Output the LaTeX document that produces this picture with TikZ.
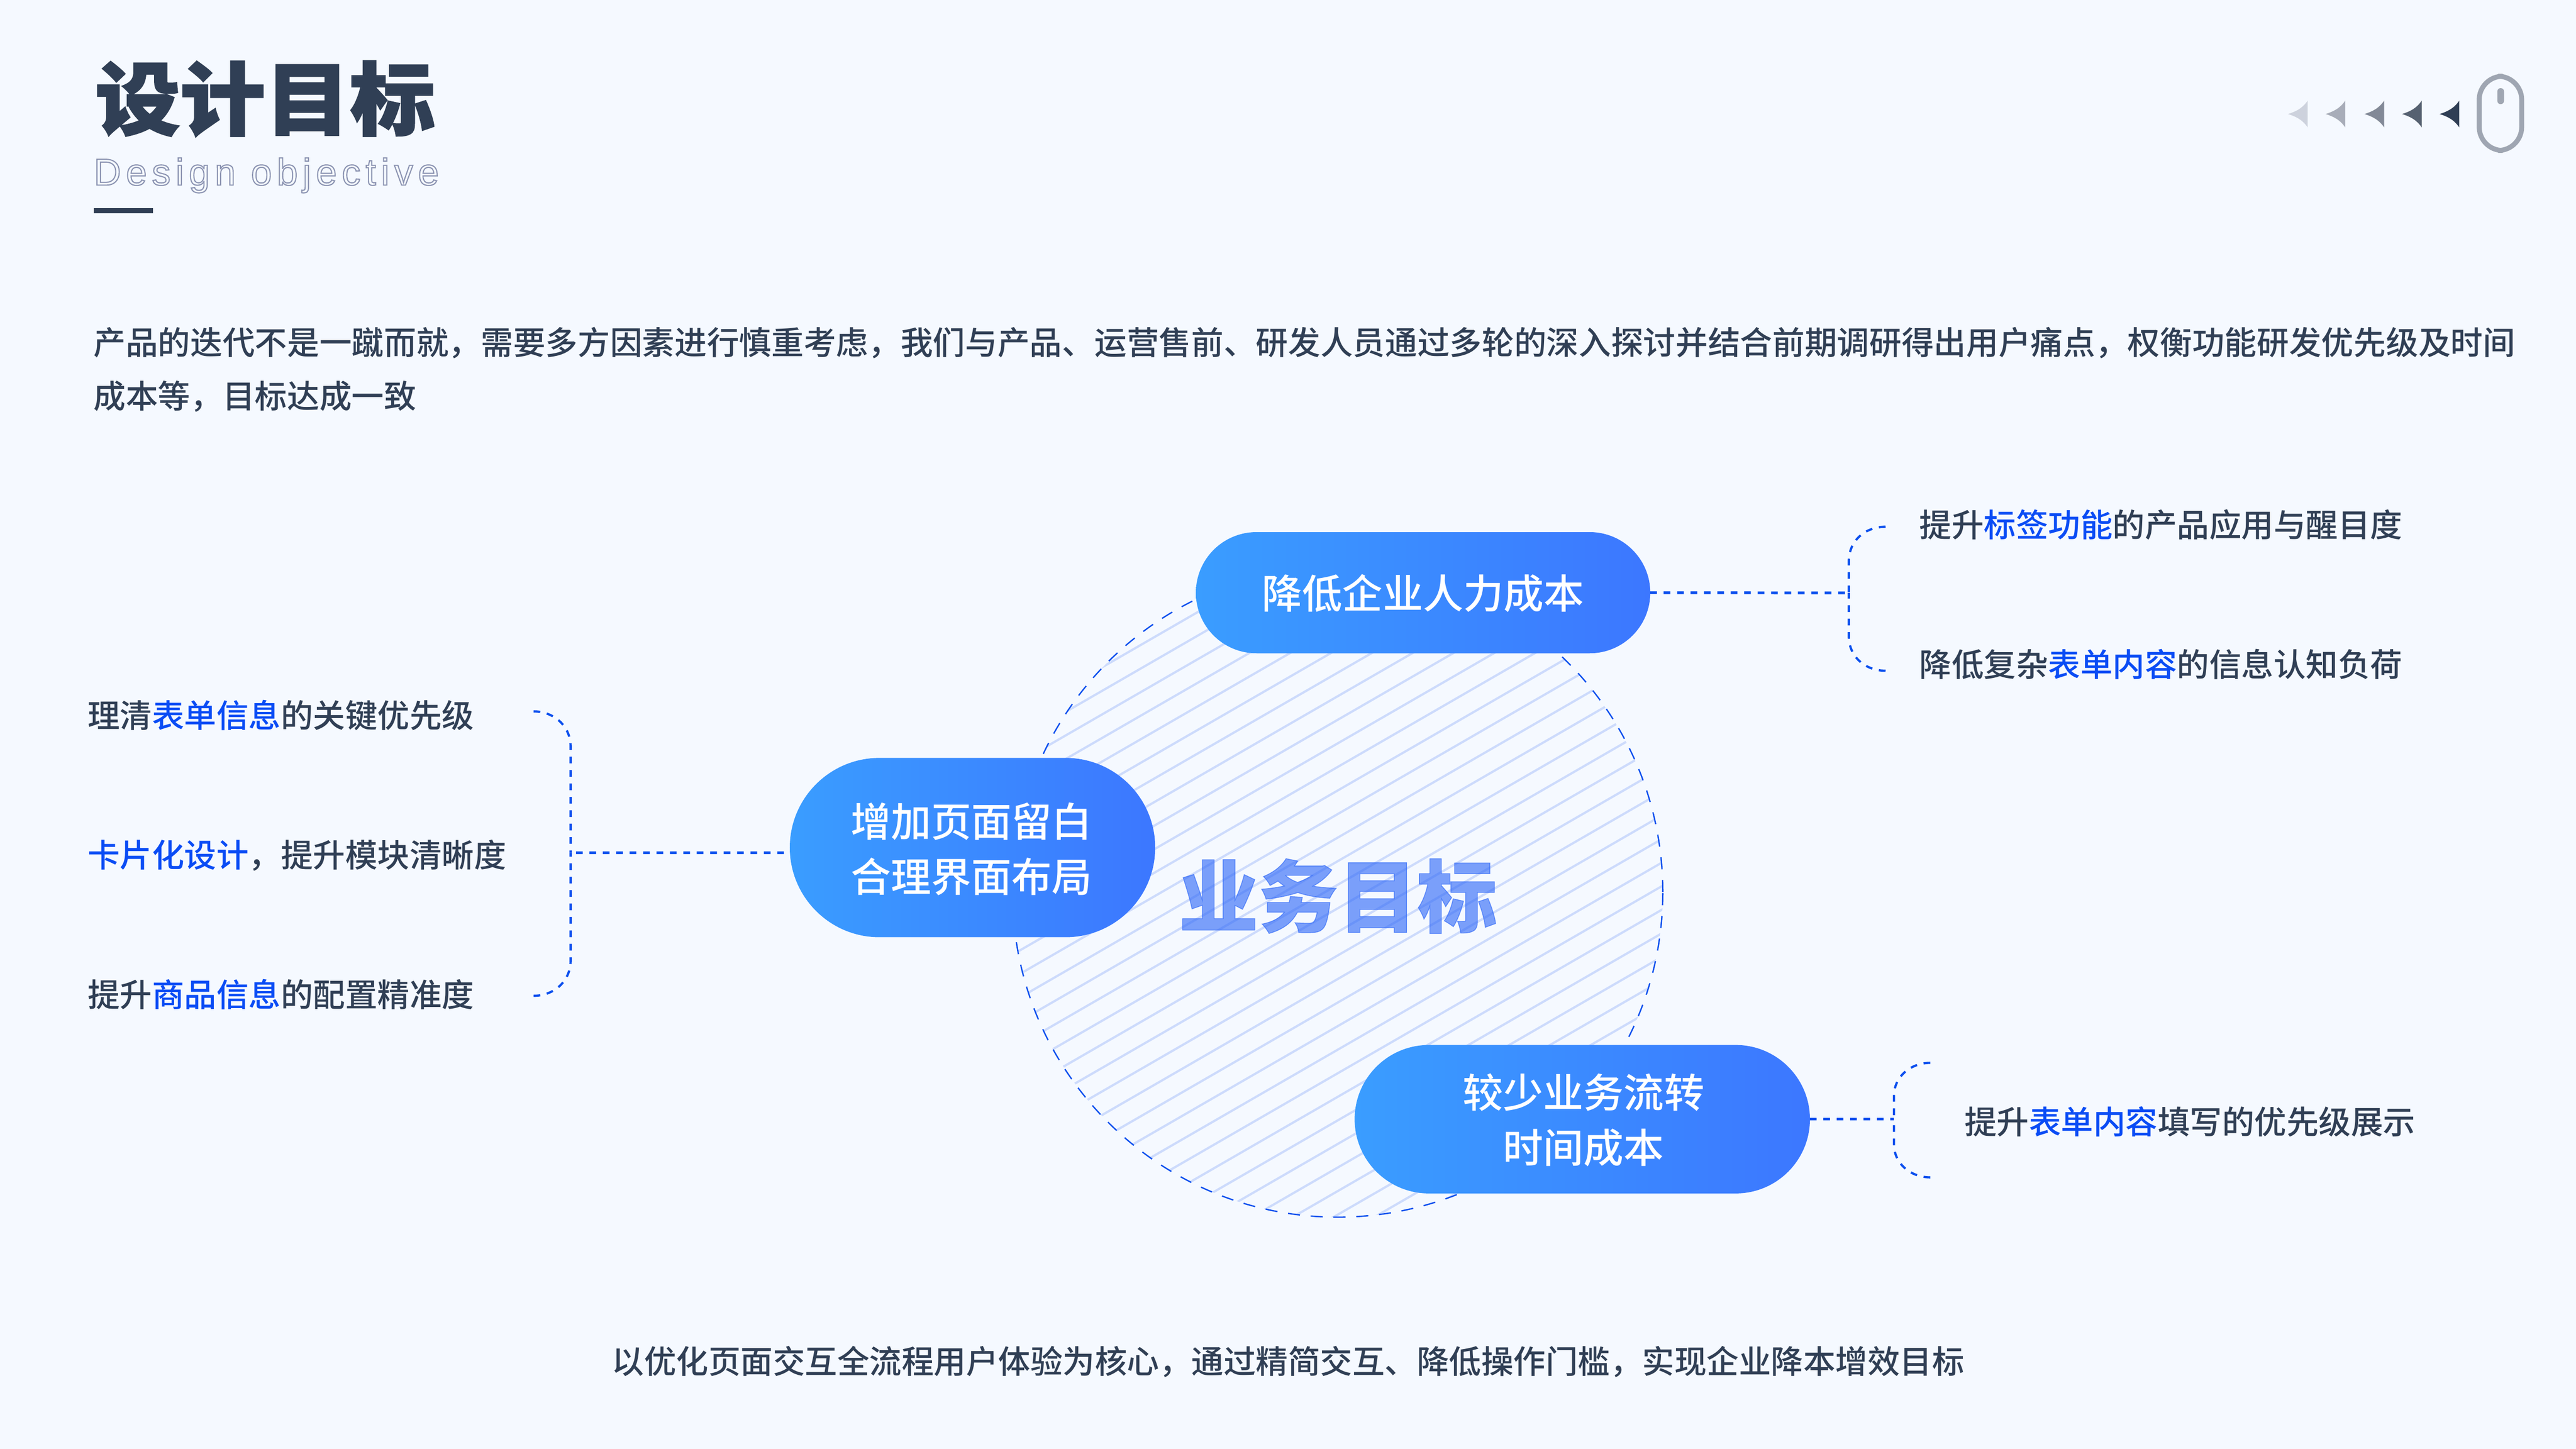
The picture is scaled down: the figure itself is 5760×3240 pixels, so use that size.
\documentclass[tikz,border=0pt]{standalone}
\usepackage{fontspec}
\usetikzlibrary{shapes.misc}
\newfontfamily\cjkreg{Noto Sans CJK SC}
\newfontfamily\cjkmed{Noto Sans CJK SC Medium}
\newfontfamily\cjkblack[FakeBold=2,FakeStretch=1.07]{Noto Sans CJK SC Black}
\newfontfamily\cjkgoal[FakeBold=1,FakeStretch=1.01]{Noto Sans CJK SC Black}
\newfontfamily\latinout[LetterSpace=13.2]{Liberation Sans}
\definecolor{pagebg}{HTML}{F5F9FF}
\definecolor{ink}{HTML}{303F55}
\definecolor{hi}{HTML}{0A4CF5}
\definecolor{lineblue}{HTML}{0B50EE}
\definecolor{hatch}{HTML}{CDDBFC}
\definecolor{pillL}{HTML}{3A9DFF}
\definecolor{pillR}{HTML}{3C77FF}
\definecolor{goalblue}{HTML}{2863F8}
\definecolor{mousegrey}{HTML}{9FA6B2}
\definecolor{ar1}{HTML}{CDD2DD}
\definecolor{ar2}{HTML}{A8ADB9}
\definecolor{ar3}{HTML}{828997}
\definecolor{ar4}{HTML}{566171}
\definecolor{ar5}{HTML}{2F3E55}
\newcommand{\hl}[1]{\textcolor{hi}{#1}}
\tikzset{
  x=0.2pt,y=-0.2pt,
  body/.style={inner sep=0pt,outer sep=0pt,anchor=base west,text=ink,font=\cjkmed\fontsize{14.4}{17}\selectfont},
  pill/.style={rounded rectangle,inner sep=0pt,outer sep=0pt,left color=pillL,right color=pillR,draw=none},
  pilltext/.style={inner sep=0pt,outer sep=0pt,text=white,align=center,font=\cjkmed\fontsize{18}{24.8}\selectfont},
  dotline/.style={draw=lineblue,line width=1.2pt,dash pattern=on 3pt off 3pt},
  brace/.style={draw=lineblue,line width=1pt,dash pattern=on 3pt off 3pt},
  ringline/.style={draw=lineblue,line width=0.6pt,dash pattern=on 5.4pt off 4.8pt},
}
\begin{document}
\begin{tikzpicture}
\useasboundingbox (0,0) rectangle (5760,3240);
\fill[pagebg] (0,0) rectangle (5760,3240);

% title
\node[body,text=ink,font=\cjkblack\fontsize{35.5}{40}\selectfont] (title) at (213,288) {设计目标};
\node[body,font=\latinout\fontsize{16.8}{20}\selectfont] (subtitle) at (210,414) {\special{pdf:code 1 Tr 0.5 w 0.55 0.58 0.70 RG}Design objective\special{pdf:code 0 Tr}};
\fill[ink] (210,465) rectangle (342,477);

% scroll hint
\foreach \tl/\cl in {5160/ar1,5244/ar2,5331/ar3,5415/ar4,5499/ar5}{
  \fill[\cl] (\tl,225) .. controls (\tl-12,243) and (\tl-28,250) .. (\tl-44,255)
     .. controls (\tl-28,260) and (\tl-12,267) .. (\tl,285) -- cycle;
}
\draw[mousegrey,line width=2.2pt,rounded corners=10.5pt] (5543.5,170.5) rectangle (5638.5,336.5);
\fill[mousegrey,rounded corners=1.5pt] (5584,197) rectangle (5599,233);

% paragraph
\node[body,font=\cjkmed\fontsize{14.44}{17}\selectfont] (para1) at (209,793) {产品的迭代不是一蹴而就，需要多方因素进行慎重考虑，我们与产品、运营售前、研发人员通过多轮的深入探讨并结合前期调研得出用户痛点，权衡功能研发优先级及时间};
\node[body,font=\cjkmed\fontsize{14.44}{17}\selectfont] (para2) at (209,913) {成本等，目标达成一致};

% goal circle
\begin{scope}
  \clip (2991,1995) circle [radius=727];
  \foreach \k in {-14,...,32}{
    \draw[hatch,line width=1pt] (2200,{1557+52.7*\k+404.1}) -- (3800,{1557+52.7*\k-519.6});
  }
\end{scope}
\node[circle,minimum size=290.8pt,inner sep=0pt,outer sep=0pt,ringline] (ring) at (2991,1995) {};
\node[body,text=goalblue,text opacity=0.6,font=\cjkgoal\fontsize{35.2}{38}\selectfont] (goal) at (2636,2071) {业务目标};

% pills
\node[pill,minimum width=203.2pt,minimum height=54.2pt] (p1) at (3182,1325.5) {};
\node[pilltext] (p1t) at (3182,1327) {降低企业人力成本};
\node[pill,minimum width=163.4pt,minimum height=80.2pt] (p2) at (2174.5,1895.5) {};
\node[pilltext] (p2t) at (2172,1899) {增加页面留白\\合理界面布局};
\node[pill,minimum width=203.6pt,minimum height=66.4pt] (p3) at (3538,2503) {};
\node[pilltext] (p3t) at (3541,2505) {较少业务流转\\时间成本};

% right-top bracket
\coordinate (b1t) at (4216,1178);
\coordinate (b1a) at (4134,1255);
\coordinate (b1m) at (4134,1326);
\coordinate (b1b) at (4134,1423);
\coordinate (b1e) at (4216,1500);
\draw[dotline] (p1.east) -- (b1m);
\draw[brace] (b1t) .. controls (4170,1178) and (4134,1210) .. (b1a) -- (b1m);
\draw[brace] (b1e) .. controls (4170,1500) and (4134,1468) .. (b1b) -- (b1m);
\node[body] (t1) at (4292,1201) {提升\hl{标签功能}的产品应用与醒目度};
\node[body] (t2) at (4292,1513) {降低复杂\hl{表单内容}的信息认知负荷};

% left bracket
\coordinate (b2t) at (1193,1591);
\coordinate (b2a) at (1276,1670);
\coordinate (b2m) at (1276,1907);
\coordinate (b2b) at (1276,2148);
\coordinate (b2e) at (1193,2227);
\draw[dotline] (p2.west) ++(-13,11.5) coordinate (p2g) -- (b2m);
\draw[brace] (b2t) .. controls (1240,1591) and (1276,1625) .. (b2a) -- (b2m);
\draw[brace] (b2e) .. controls (1240,2227) and (1276,2193) .. (b2b) -- (b2m);
\node[body] (t3) at (196,1627) {理清\hl{表单信息}的关键优先级};
\node[body] (t4) at (196,1939) {\hl{卡片化设计}，提升模块清晰度};
\node[body] (t5) at (196,2252) {提升\hl{商品信息}的配置精准度};

% right-bottom bracket
\coordinate (b3t) at (4316,2377);
\coordinate (b3a) at (4235,2450);
\coordinate (b3m) at (4235,2503);
\coordinate (b3b) at (4235,2560);
\coordinate (b3e) at (4316,2633);
\draw[dotline] (p3.east) -- (b3m);
\draw[brace] (b3t) .. controls (4270,2377) and (4235,2410) .. (b3a) -- (b3m);
\draw[brace] (b3e) .. controls (4270,2633) and (4235,2600) .. (b3b) -- (b3m);
\node[body] (t6) at (4393,2536) {提升\hl{表单内容}填写的优先级展示};

% closing line
\node[body] (closing) at (1368,3072) {以优化页面交互全流程用户体验为核心，通过精简交互、降低操作门槛，实现企业降本增效目标};
\end{tikzpicture}
\end{document}
